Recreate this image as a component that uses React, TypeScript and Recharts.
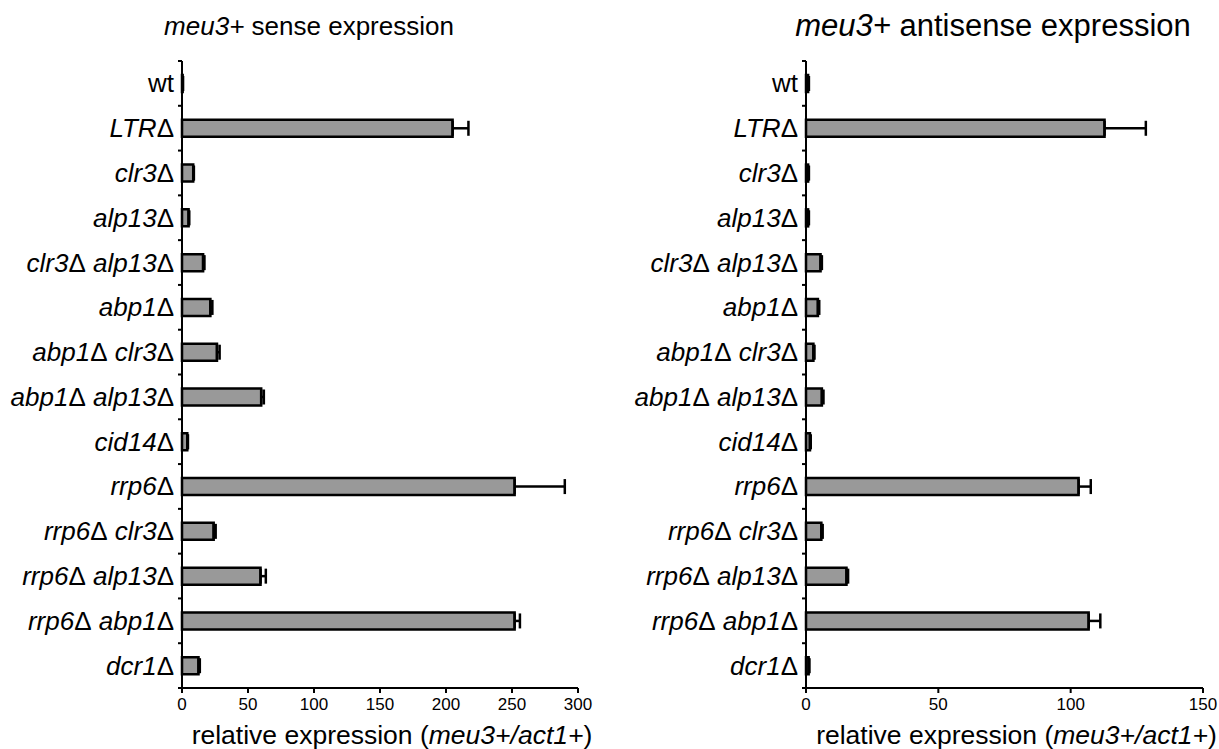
import { BarChart, Bar, XAxis, YAxis, ErrorBar } from "recharts";

const strains = [
  "wt",
  "LTRΔ",
  "clr3Δ",
  "alp13Δ",
  "clr3Δ alp13Δ",
  "abp1Δ",
  "abp1Δ clr3Δ",
  "abp1Δ alp13Δ",
  "cid14Δ",
  "rrp6Δ",
  "rrp6Δ clr3Δ",
  "rrp6Δ alp13Δ",
  "rrp6Δ abp1Δ",
  "dcr1Δ",
];

const senseMean = [0.5, 205, 8.5, 5, 16, 21.5, 26.5, 60, 4, 252, 24, 59.5, 252, 12.5];
const senseErr = [0.3, 12, 0.5, 0.5, 1, 1.5, 2, 2, 0.5, 38, 1.5, 4, 4, 1];

const antisenseMean = [0.8, 112.8, 0.8, 0.8, 5.5, 4.5, 2.8, 6, 1.5, 103, 5.8, 15.3, 106.8, 1];
const antisenseErr = [0.3, 15.6, 0.3, 0.3, 0.5, 0.5, 0.4, 0.6, 0.3, 4.6, 0.5, 0.6, 4.4, 0.3];

const senseTicks = [0, 50, 100, 150, 200, 250, 300];
const antisenseTicks = [0, 50, 100, 150];

const FONT = "Arial, 'Liberation Sans', Helvetica, sans-serif";
const CHART_H = 749;
const TOP = 61;
const X_AXIS_H = 61;
const BAND = (CHART_H - TOP - X_AXIS_H) / strains.length;

const StrainTick = (props: any) => {
  const { x, y, payload, index } = props;
  const axisX = x + 8;
  const label = String(payload.value);
  const parts = label.split("Δ");
  const hasDelta = parts.length > 1;
  return (
    <g>
      <line x1={axisX - 4} x2={axisX} y1={y - BAND / 2} y2={y - BAND / 2} stroke="#000" strokeWidth={2} />
      {index === strains.length - 1 && (
        <line x1={axisX - 4} x2={axisX} y1={y + BAND / 2} y2={y + BAND / 2} stroke="#000" strokeWidth={2} />
      )}
      <text
        x={x}
        y={y}
        textAnchor="end"
        dominantBaseline="central"
        fontSize={26}
        fontFamily={FONT}
        fill="#000"
        style={{ whiteSpace: "pre" }}
      >
        {hasDelta
          ? parts.map((p, i) => (
              <tspan key={i}>
                <tspan fontStyle="italic">{p}</tspan>
                {i < parts.length - 1 && <tspan>Δ</tspan>}
              </tspan>
            ))
          : label}
      </text>
    </g>
  );
};

const AxisTitle = (props: any) => {
  const { viewBox } = props;
  const cx = viewBox.x + viewBox.width / 2 + 12;
  return (
    <text
      x={cx}
      y={viewBox.y + 56}
      textAnchor="middle"
      fontSize={26.5}
      fontFamily={FONT}
      fill="#000"
      style={{ whiteSpace: "pre" }}
    >
      <tspan>relative expression (</tspan>
      <tspan fontStyle="italic">meu3+/act1+</tspan>
      <tspan>)</tspan>
    </text>
  );
};

type PanelProps = {
  left: number;
  width: number;
  yAxisWidth: number;
  rightMargin: number;
  mean: number[];
  err: number[];
  ticks: number[];
  title: string;
  titleCenter: number;
  titleSize: number;
};

const Panel = ({ left, width, yAxisWidth, rightMargin, mean, err, ticks, title, titleCenter, titleSize }: PanelProps) => {
  const data = strains.map((s, i) => ({ strain: s, value: mean[i], err: [0, err[i]] }));
  return (
    <div style={{ position: "absolute", left, top: 0, width, height: CHART_H }}>
      <div
        style={{
          position: "absolute",
          left: titleCenter - left - 300,
          width: 600,
          top: 11,
          textAlign: "center",
          fontFamily: FONT,
          fontSize: titleSize,
          lineHeight: "30px",
          color: "#000",
          whiteSpace: "nowrap",
        }}
      >
        <i>meu3+</i> {title}
      </div>
      <BarChart
        width={width}
        height={CHART_H}
        data={data}
        layout="vertical"
        margin={{ top: TOP, right: rightMargin, bottom: 0, left: 0 }}
        barCategoryGap={0}
      >
        <XAxis
          type="number"
          domain={[ticks[0], ticks[ticks.length - 1]]}
          ticks={ticks}
          interval={0}
          height={X_AXIS_H}
          tickSize={5}
          tickMargin={5}
          axisLine={{ stroke: "#000", strokeWidth: 2 }}
          tickLine={{ stroke: "#000", strokeWidth: 2 }}
          tick={{ fill: "#000", fontSize: 17, fontFamily: FONT }}
          label={{ content: AxisTitle }}
        />
        <YAxis
          type="category"
          dataKey="strain"
          width={yAxisWidth}
          interval={0}
          tickSize={4}
          tickMargin={4}
          tickLine={false}
          axisLine={{ stroke: "#000", strokeWidth: 2 }}
          tick={StrainTick}
        />
        <Bar dataKey="value" fill="#999999" stroke="#000" strokeWidth={2.5} barSize={17} isAnimationActive={false}>
          <ErrorBar dataKey="err" direction="x" width={7.5} stroke="#000" strokeWidth={2.5} />
        </Bar>
      </BarChart>
    </div>
  );
};

export default function App() {
  return (
    <div style={{ position: "absolute", left: 0, top: 0, width: 1219, height: CHART_H, background: "#fff" }}>
      <Panel
        left={0}
        width={600}
        yAxisWidth={182}
        rightMargin={22}
        mean={senseMean}
        err={senseErr}
        ticks={senseTicks}
        title="sense expression"
        titleCenter={309}
        titleSize={26}
      />
      <Panel
        left={600}
        width={619}
        yAxisWidth={206}
        rightMargin={16}
        mean={antisenseMean}
        err={antisenseErr}
        ticks={antisenseTicks}
        title="antisense expression"
        titleCenter={993}
        titleSize={31}
      />
    </div>
  );
}
